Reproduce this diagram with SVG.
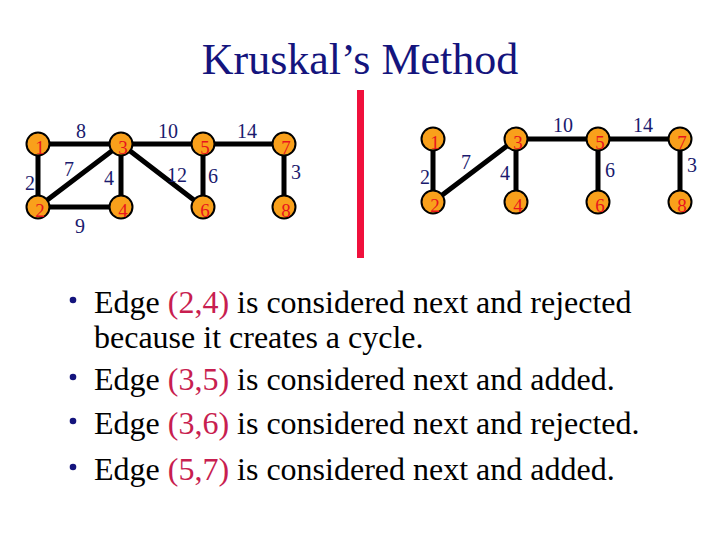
<svg xmlns="http://www.w3.org/2000/svg" width="720" height="540" viewBox="0 0 720 540">
<style>
.edge{stroke:#000;stroke-width:5;stroke-linecap:round}
.node circle{fill:#f9a01b;stroke:#000;stroke-width:2}
.node text{fill:#e8141e;font-family:"Liberation Serif","Times New Roman",serif;font-size:19px;text-anchor:middle}
.wl{fill:#1a1a6e;font-family:"Liberation Serif","Times New Roman",serif;font-size:20px;text-anchor:middle}
.title{fill:#14147d;font-family:"Liberation Serif","Times New Roman",serif;font-size:44px;text-anchor:middle}
.body{fill:#000;font-family:"Liberation Serif","Times New Roman",serif;font-size:32px}
.hl{fill:#c81e50}
.bullet{fill:#14147d}
</style>
<rect width="720" height="540" fill="#fff"/>
<text class="title" x="360" y="74">Kruskal’s Method</text>
<rect x="357" y="90" width="7" height="168" fill="#f0103c"/>

<g id="connectors">
<line class="edge" x1="38" y1="144" x2="121" y2="144"/>
<line class="edge" x1="121" y1="144" x2="203" y2="144"/>
<line class="edge" x1="203" y1="144" x2="284" y2="144"/>
<line class="edge" x1="38" y1="144" x2="38" y2="207"/>
<line class="edge" x1="38" y1="207" x2="121" y2="144"/>
<line class="edge" x1="121" y1="144" x2="121" y2="207"/>
<line class="edge" x1="121" y1="144" x2="203" y2="207"/>
<line class="edge" x1="203" y1="144" x2="203" y2="207"/>
<line class="edge" x1="284" y1="144" x2="284" y2="207"/>
<line class="edge" x1="38" y1="207" x2="121" y2="207"/>

<line class="edge" x1="433" y1="139" x2="433" y2="202"/>
<line class="edge" x1="433" y1="202" x2="516" y2="139"/>
<line class="edge" x1="516" y1="139" x2="516" y2="202"/>
<line class="edge" x1="516" y1="139" x2="598" y2="139"/>
<line class="edge" x1="598" y1="139" x2="680" y2="139"/>
<line class="edge" x1="598" y1="139" x2="598" y2="202"/>
<line class="edge" x1="680" y1="139" x2="680" y2="202"/>
</g>

<g id="edge-labels">
<text class="wl" x="81" y="138">8</text>
<text class="wl" x="168" y="138">10</text>
<text class="wl" x="247" y="138">14</text>
<text class="wl" x="69" y="176">7</text>
<text class="wl" x="30" y="190">2</text>
<text class="wl" x="109" y="185">4</text>
<text class="wl" x="177" y="182">12</text>
<text class="wl" x="213" y="183">6</text>
<text class="wl" x="296" y="179">3</text>
<text class="wl" x="80" y="233">9</text>

<text class="wl" x="563" y="132">10</text>
<text class="wl" x="643" y="132">14</text>
<text class="wl" x="466" y="169">7</text>
<text class="wl" x="425" y="184">2</text>
<text class="wl" x="505" y="180">4</text>
<text class="wl" x="610" y="177">6</text>
<text class="wl" x="692" y="172">3</text>
</g>

<g id="L1" class="node"><circle cx="38" cy="144" r="11.5"/><text x="40" y="154">1</text></g>
<g id="L2" class="node"><circle cx="38" cy="207" r="11.5"/><text x="40" y="217">2</text></g>
<g id="L3" class="node"><circle cx="121" cy="144" r="11.5"/><text x="123" y="154">3</text></g>
<g id="L4" class="node"><circle cx="121" cy="207" r="11.5"/><text x="123" y="217">4</text></g>
<g id="L5" class="node"><circle cx="203" cy="144" r="11.5"/><text x="205" y="154">5</text></g>
<g id="L6" class="node"><circle cx="203" cy="207" r="11.5"/><text x="205" y="217">6</text></g>
<g id="L7" class="node"><circle cx="284" cy="144" r="11.5"/><text x="286" y="154">7</text></g>
<g id="L8" class="node"><circle cx="284" cy="207" r="11.5"/><text x="286" y="217">8</text></g>

<g id="R1" class="node"><circle cx="433" cy="139" r="11.5"/><text x="435" y="149">1</text></g>
<g id="R2" class="node"><circle cx="433" cy="202" r="11.5"/><text x="435" y="212">2</text></g>
<g id="R3" class="node"><circle cx="516" cy="139" r="11.5"/><text x="518" y="149">3</text></g>
<g id="R4" class="node"><circle cx="516" cy="202" r="11.5"/><text x="518" y="212">4</text></g>
<g id="R5" class="node"><circle cx="598" cy="139" r="11.5"/><text x="600" y="149">5</text></g>
<g id="R6" class="node"><circle cx="598" cy="202" r="11.5"/><text x="600" y="212">6</text></g>
<g id="R7" class="node"><circle cx="680" cy="139" r="11.5"/><text x="682" y="149">7</text></g>
<g id="R8" class="node"><circle cx="680" cy="202" r="11.5"/><text x="682" y="212">8</text></g>

<g id="bullets">
<circle class="bullet" cx="73" cy="300" r="3.3"/>
<circle class="bullet" cx="73" cy="377" r="3.3"/>
<circle class="bullet" cx="73" cy="421" r="3.3"/>
<circle class="bullet" cx="73" cy="467" r="3.3"/>
<text class="body" x="94" y="313">Edge <tspan class="hl">(2,4)</tspan> is considered next and rejected</text>
<text class="body" x="94" y="348">because it creates a cycle.</text>
<text class="body" x="94" y="390">Edge <tspan class="hl">(3,5)</tspan> is considered next and added.</text>
<text class="body" x="94" y="434">Edge <tspan class="hl">(3,6)</tspan> is considered next and rejected.</text>
<text class="body" x="94" y="480">Edge <tspan class="hl">(5,7)</tspan> is considered next and added.</text>
</g>
</svg>
